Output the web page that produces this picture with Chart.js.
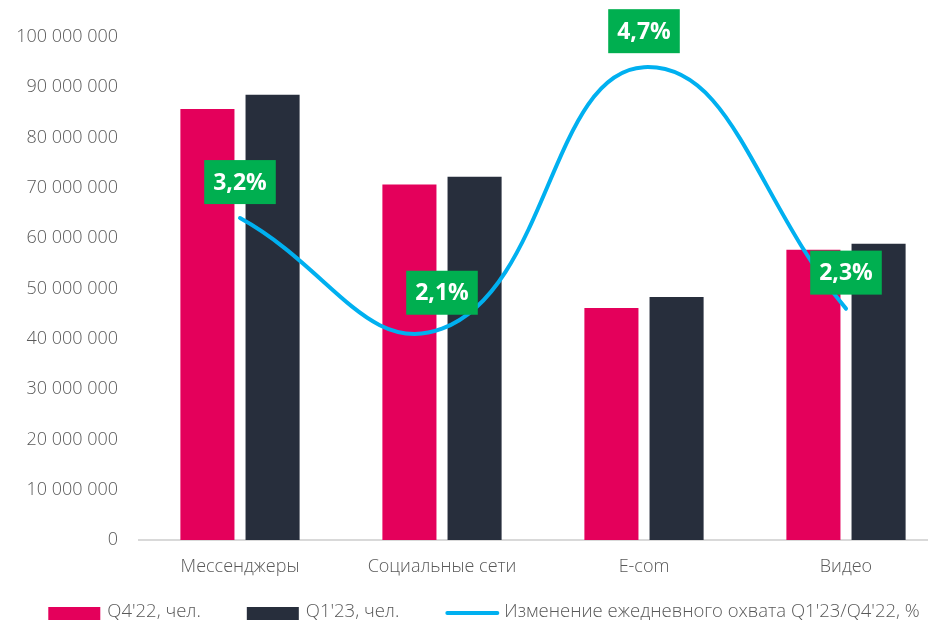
<!DOCTYPE html>
<html>
<head>
<meta charset="utf-8">
<script src="https://cdn.jsdelivr.net/npm/chart.js@4/dist/chart.umd.min.js"></script>
<style>
  html, body { margin: 0; padding: 0; background: #fff; overflow: hidden; }
  #wrap { position: relative; width: 948px; height: 620px; }
</style>
</head>
<body>
<div id="wrap"><canvas id="c"></canvas></div>
<script>
// ---- data ----
const categories = ['Мессенджеры', 'Социальные сети', 'E-com', 'Видео'];
const q4_22 = [85700000, 70700000, 46100000, 57700000];
const q1_23 = [88500000, 72200000, 48300000, 58900000];
const changePct = [3.2, 2.1, 4.7, 2.3];
const seriesNames = ["Q4'22, чел.", "Q1'23, чел.", "Изменение ежедневного охвата Q1'23/Q4'22, %"];
const yTicksMax = 100000000;
const yTicksStep = 10000000;

const FONT = '"Open Sans", "Noto Sans", sans-serif';
const GRAY = '#595959';
const PINK = '#E4005B';
const DARK = '#272E3C';
const BLUE = '#00B0F0';
const GREEN = '#00AF50';

function fmtThousands(v) {
  return String(v).replace(/\B(?=(\d{3})+(?!\d))/g, ' ');
}

const labelPlugin = {
  id: 'pctLabels',
  afterDatasetsDraw(chart) {
    const ctx = chart.ctx;
    const idx = chart.data.datasets.findIndex(d => d.type === 'line');
    const meta = chart.getDatasetMeta(idx);
    const data = chart.data.datasets[idx].data;
    ctx.save();
    ctx.font = 'bold 23px ' + FONT;
    ctx.textAlign = 'center';
    ctx.textBaseline = 'middle';
    meta.data.forEach((pt, i) => {
      const txt = data[i].toFixed(1).replace('.', ',') + '%';
      const w = ctx.measureText(txt).width + 18;
      const h = 44;
      const cy = pt.y - 36;
      ctx.fillStyle = GREEN;
      ctx.fillRect(pt.x - w / 2, cy - h / 2, w, h);
      ctx.fillStyle = '#fff';
      ctx.fillText(txt, pt.x, cy + 1);
    });
    ctx.restore();
  }
};

const legendPlugin = {
  id: 'customLegend',
  afterDraw(chart) {
    const ctx = chart.ctx;
    ctx.save();
    ctx.font = '300 18.5px ' + FONT;
    ctx.textBaseline = 'middle';
    ctx.textAlign = 'left';
    const boxW = 52, gapText = 7, gapItem = 46;
    const items = chart.data.datasets.map(d => ({
      text: d.label, color: d.type === 'line' ? d.borderColor : d.backgroundColor, line: d.type === 'line'
    }));
    let total = 0;
    items.forEach((it, i) => {
      it.tw = ctx.measureText(it.text).width;
      total += boxW + gapText + it.tw + (i < items.length - 1 ? gapItem : 0);
    });
    let x = 484 - total / 2;
    const cy = 612;
    items.forEach(it => {
      if (it.line) {
        ctx.strokeStyle = it.color;
        ctx.lineWidth = 4;
        ctx.lineCap = 'round';
        ctx.beginPath();
        ctx.moveTo(x + 2, cy + 1);
        ctx.lineTo(x + boxW, cy + 1);
        ctx.stroke();
      } else {
        ctx.fillStyle = it.color;
        ctx.fillRect(x, cy - 5, boxW, 14);
      }
      x += boxW + gapText;
      ctx.fillStyle = GRAY;
      ctx.fillText(it.text, x, cy);
      x += it.tw + gapItem;
    });
    ctx.restore();
  }
};

new Chart(document.getElementById('c'), {
  data: {
    labels: categories,
    datasets: [
      { type: 'bar', label: seriesNames[0], data: q4_22, backgroundColor: PINK, order: 1,
        barPercentage: 0.83, categoryPercentage: 0.645, yAxisID: 'y' },
      { type: 'bar', label: seriesNames[1], data: q1_23, backgroundColor: DARK, order: 1,
        barPercentage: 0.83, categoryPercentage: 0.645, yAxisID: 'y' },
      { type: 'line', label: seriesNames[2], data: changePct, borderColor: BLUE, backgroundColor: BLUE,
        borderWidth: 4, tension: 0.45, pointRadius: 0, borderCapStyle: 'round', order: 0, yAxisID: 'y2' }
    ]
  },
  options: {
    responsive: true,
    maintainAspectRatio: false,
    animation: false,
    layout: { padding: { top: 37, right: 1, bottom: 35, left: 0 } },
    plugins: { legend: { display: false }, tooltip: { enabled: false } },
    scales: {
      x: {
        grid: { display: false, drawTicks: false },
        border: { display: true, color: '#D9D9D9', width: 2 },
        ticks: { color: GRAY, font: { family: FONT, size: 18, weight: 300 }, padding: 16, maxRotation: 0 },
        afterFit(s) { s.height = 45; }
      },
      y: {
        min: 0, max: yTicksMax,
        grid: { display: false, drawTicks: false },
        border: { display: false },
        ticks: { stepSize: yTicksStep, color: GRAY, font: { family: FONT, size: 18, weight: 300 }, padding: 21,
          callback: v => fmtThousands(v) },
        afterFit(s) { s.width = 139; }
      },
      y2: { display: false, min: 0, max: 5 }
    }
  },
  plugins: [labelPlugin, legendPlugin]
});
</script>
</body>
</html>
